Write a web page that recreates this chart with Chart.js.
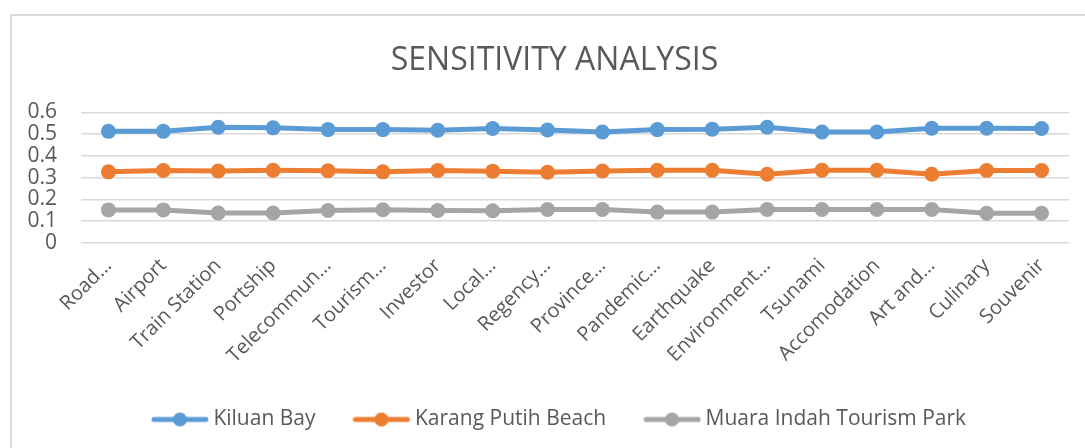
<!DOCTYPE html>
<html>
<head>
<meta charset="utf-8">
<script src="https://cdn.jsdelivr.net/npm/chart.js@4/dist/chart.umd.min.js"></script>
<style>
  html, body { margin: 0; padding: 0; background: #fff; }
  #wrap { position: relative; width: 1085px; height: 448px; overflow: hidden; }
  #frame { position: absolute; left: 10px; top: 14px; width: 1200px; height: 600px; border: 2px solid #d9d9d9; }
  canvas { position: absolute; left: 0; top: 0; }
</style>
</head>
<body>
<div id="wrap">
  <div id="frame"></div>
  <canvas id="chart" width="1085" height="448"></canvas>
</div>
<script>
// categories as shown on the axis (Excel truncated the long ones)
const categories = ['Road…', 'Airport', 'Train Station', 'Portship', 'Telecommun…', 'Tourism…',
  'Investor', 'Local…', 'Regency…', 'Province…', 'Pandemic…', 'Earthquake', 'Environment…',
  'Tsunami', 'Accomodation', 'Art and…', 'Culinary', 'Souvenir'];

const kiluanBay = [0.513, 0.513, 0.532, 0.529, 0.521, 0.521, 0.518, 0.526, 0.519, 0.510,
  0.521, 0.523, 0.532, 0.510, 0.510, 0.527, 0.527, 0.526];
const karangPutih = [0.327, 0.333, 0.331, 0.334, 0.332, 0.327, 0.333, 0.330, 0.325, 0.331,
  0.334, 0.334, 0.316, 0.334, 0.334, 0.316, 0.333, 0.333];
const muaraIndah = [0.152, 0.152, 0.138, 0.138, 0.149, 0.153, 0.149, 0.148, 0.154, 0.154,
  0.142, 0.142, 0.154, 0.154, 0.154, 0.154, 0.137, 0.137];

const seriesNames = ['Kiluan Bay', 'Karang Putih Beach', 'Muara Indah Tourism Park'];
const seriesColors = ['#5b9bd5', '#ed7d31', '#a5a5a5'];

const textColor = '#595959';
const gridColor = '#d9d9d9';

// legend marker: short line with a dot, like excel
function legendMarker(color) {
  const c = document.createElement('canvas');
  c.width = 58; c.height = 16;
  const ctx = c.getContext('2d');
  ctx.strokeStyle = color;
  ctx.lineWidth = 5;
  ctx.lineCap = 'round';
  ctx.beginPath();
  ctx.moveTo(3, 8); ctx.lineTo(55, 8);
  ctx.stroke();
  ctx.fillStyle = color;
  ctx.beginPath();
  ctx.arc(29, 8, 7, 0, Math.PI * 2);
  ctx.fill();
  return c;
}

// excel centres title + legend on the whole frame, a bit right of the plot centre
const shiftBoxes = {
  id: 'shiftBoxes',
  afterLayout(chart) {
    if (chart.titleBlock) { chart.titleBlock.left += 20; chart.titleBlock.right += 20; }
    if (chart.legend) { chart.legend.left += 27; chart.legend.right += 27; }
  },
};

const values = [kiluanBay, karangPutih, muaraIndah];
const datasets = values.map((v, i) => ({
  label: seriesNames[i],
  data: v,
  borderColor: seriesColors[i],
  backgroundColor: seriesColors[i],
  borderWidth: 5,
  pointStyle: 'circle',
  pointRadius: 7.5,
  pointHoverRadius: 7.5,
  pointBorderWidth: 0,
  tension: 0,
}));

new Chart(document.getElementById('chart'), {
  type: 'line',
  data: { labels: categories, datasets },
  plugins: [shiftBoxes],
  options: {
    responsive: false,
    animation: false,
    layout: { padding: { left: 0, right: 16, top: 0, bottom: 8 } },
    plugins: {
      title: {
        display: true,
        text: 'SENSITIVITY ANALYSIS',
        color: textColor,
        font: { family: 'Open Sans', size: 32, weight: 'normal' },
        padding: { top: 42, bottom: 32 },
      },
      legend: {
        position: 'bottom',
        labels: {
          color: textColor,
          font: { family: 'Open Sans', size: 21 },
          usePointStyle: true,
          pointStyleWidth: 46,
          boxHeight: 16,
          padding: 43,
          generateLabels: (chart) => chart.data.datasets.map((ds, i) => ({
            text: ds.label,
            fontColor: textColor,
            pointStyle: legendMarker(seriesColors[i]),
            datasetIndex: i,
            lineWidth: 0,
            strokeStyle: 'transparent',
          })),
        },
      },
      tooltip: { enabled: false },
    },
    scales: {
      x: {
        offset: true,
        grid: { display: false },
        border: { display: false },
        ticks: {
          color: textColor,
          font: { family: 'Open Sans', size: 20 },
          autoSkip: false,
          maxRotation: 45,
          minRotation: 45,
          padding: 3,
        },
        afterFit: (scale) => { scale.height = 128 - 5; },
      },
      y: {
        min: 0,
        max: 0.6,
        border: { display: false },
        grid: { color: gridColor, lineWidth: 1.5, drawTicks: false },
        ticks: {
          stepSize: 0.1,
          autoSkip: false,
          color: textColor,
          font: { family: 'Open Sans', size: 21 },
          padding: 24,
        },
        afterFit: (scale) => { scale.width = 81; },
      },
    },
  },
});
</script>
</body>
</html>
